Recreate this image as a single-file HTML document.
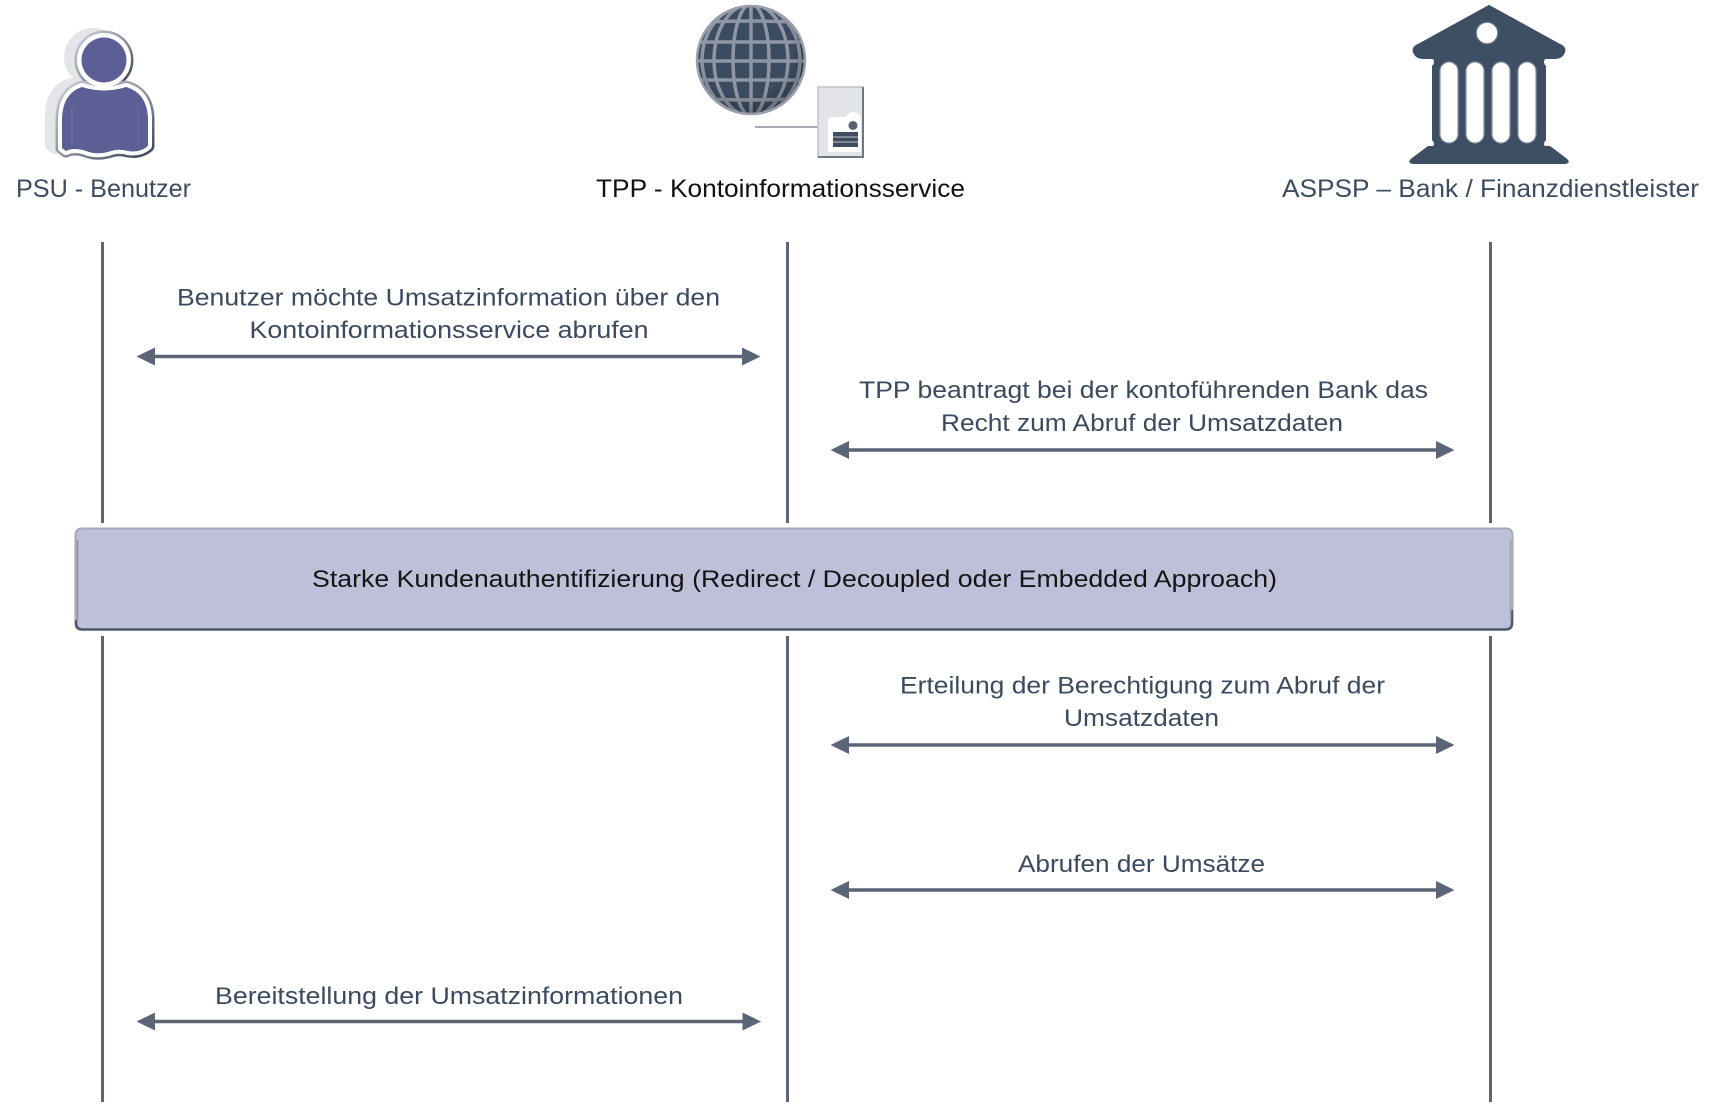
<!DOCTYPE html>
<html>
<head>
<meta charset="utf-8">
<style>
html,body{margin:0;padding:0;background:#fff;}
svg{display:block;}
text{font-family:"Liberation Sans",Arial,sans-serif;}
</style>
</head>
<body>
<svg width="1715" height="1105" viewBox="0 0 1715 1105" xmlns="http://www.w3.org/2000/svg">
  <defs>
    <linearGradient id="og" x1="0" y1="0" x2="1" y2="1">
      <stop offset="0" stop-color="#c3c6ce"/>
      <stop offset="0.55" stop-color="#8a909d"/>
      <stop offset="1" stop-color="#404a5c"/>
    </linearGradient>
    <clipPath id="gc"><circle cx="751" cy="60" r="54"/></clipPath>
    <radialGradient id="gshade" cx="0.45" cy="0.4" r="0.6">
      <stop offset="0.7" stop-color="#000" stop-opacity="0"/>
      <stop offset="1" stop-color="#000" stop-opacity="0.25"/>
    </radialGradient>
  </defs>

  <!-- ===== PSU person icon ===== -->
  <g>
    <!-- shadow -->
    <g transform="translate(-11,-3)" fill="#e4e5e9" stroke="#e4e5e9" stroke-width="12" stroke-linejoin="round">
      <ellipse cx="104" cy="60" rx="23" ry="23"/>
      <path d="M62 148 L62 118 Q63 93 82 87 Q104 94 126 87 Q147 93 148 118 L148 146 Q140 153 128 151 Q118 148 108 152 Q96 155 86 151 Q74 147 66 151 Z"/>
    </g>
    <!-- outer outline -->
    <g fill="url(#og)" stroke="url(#og)" stroke-width="13" stroke-linejoin="round">
      <ellipse cx="104" cy="60" rx="23" ry="23"/>
      <path d="M62 148 L62 118 Q63 93 82 87 Q104 94 126 87 Q147 93 148 118 L148 146 Q140 153 128 151 Q118 148 108 152 Q96 155 86 151 Q74 147 66 151 Z"/>
    </g>
    <!-- white ring -->
    <g fill="#ffffff" stroke="#ffffff" stroke-width="8" stroke-linejoin="round">
      <ellipse cx="104" cy="60" rx="23" ry="23"/>
      <path d="M62 148 L62 118 Q63 93 82 87 Q104 94 126 87 Q147 93 148 118 L148 146 Q140 153 128 151 Q118 148 108 152 Q96 155 86 151 Q74 147 66 151 Z"/>
    </g>
    <!-- purple fill -->
    <g fill="#5b5f96">
      <ellipse cx="104" cy="60" rx="22.5" ry="22.5"/>
      <path d="M62 148 L62 118 Q63 93 82 87 Q104 94 126 87 Q147 93 148 118 L148 146 Q140 153 128 151 Q118 148 108 152 Q96 155 86 151 Q74 147 66 151 Z"/>
    </g>
    <path d="M72 108 L72 146" stroke="#6e72a4" stroke-width="1"/>
    <path d="M138 108 L138 146" stroke="#6e72a4" stroke-width="1"/>
  </g>

  <!-- ===== TPP globe + server ===== -->
  <g>
    <circle cx="751" cy="60" r="55" fill="#a2a7b2"/>
    <g clip-path="url(#gc)">
      <rect x="690" y="0" width="125" height="125" fill="#3b4b60"/>
      <g fill="none" stroke="#8f96a3" stroke-width="3.5">
        <line x1="751" y1="0" x2="751" y2="120"/>
        <ellipse cx="751" cy="60" rx="18" ry="56"/>
        <ellipse cx="751" cy="60" rx="37" ry="56"/>
        <ellipse cx="751" cy="60" rx="49" ry="56"/>
        <path d="M690 23 Q751 19 812 23"/>
        <line x1="690" y1="42" x2="812" y2="42"/>
        <line x1="690" y1="61" x2="812" y2="61"/>
        <line x1="690" y1="80" x2="812" y2="80"/>
        <path d="M690 98 Q751 102 812 98"/>
      </g>
      <circle cx="751" cy="60" r="55" fill="url(#gshade)"/>
    </g>
    <circle cx="751" cy="60" r="54" fill="none" stroke="#9aa0ab" stroke-width="2.5"/>
    <!-- connector -->
    <line x1="755" y1="127" x2="819" y2="127" stroke="#a6abb5" stroke-width="2"/>
    <!-- server -->
    <rect x="818" y="87" width="45" height="70" fill="#e3e4e8" stroke="#bfc2c9" stroke-width="1.5"/>
    <path d="M863 87 L863 157 L818 157" fill="none" stroke="#6f7685" stroke-width="2"/>
    <path d="M828 152 L828 121 Q828 117 832 117 L846 117 Q847 116 848 114 Q853 110 858 114 Q861 117 861 121 L861 152 Z" fill="#ffffff"/>
    <circle cx="853" cy="125.5" r="4.5" fill="#566073"/>
    <rect x="833" y="132" width="25" height="15" fill="#3e4c60"/>
    <line x1="833" y1="137" x2="858" y2="137" stroke="#c5c8cf" stroke-width="1"/>
    <line x1="833" y1="142" x2="858" y2="142" stroke="#c5c8cf" stroke-width="1"/>
  </g>

  <!-- ===== ASPSP bank ===== -->
  <g fill="#3e4f63">
    <!-- roof -->
    <path d="M1489 6 L1420 44 Q1412 47 1414 52 Q1416 58 1424 58 L1554 58 Q1562 58 1564 52 Q1566 47 1558 44 Z" stroke="#3e4f63" stroke-width="2" stroke-linejoin="round"/>
    <!-- body -->
    <path d="M1432 58 L1546 58 Q1542 62 1546 66 L1546 140 Q1542 144 1546 147 L1432 147 Q1436 144 1432 140 L1432 66 Q1436 62 1432 58 Z"/>
    <!-- base -->
    <path d="M1428 146 L1550 146 L1566 158 Q1572 163 1565 164 L1413 164 Q1406 163 1412 158 Z"/>
    <!-- pediment circle -->
    <circle cx="1487" cy="33" r="11" fill="#ffffff" stroke="#5b6a7d" stroke-width="1.5"/>
    <!-- columns -->
    <g fill="#ffffff" stroke="#8793a2" stroke-width="1.2">
      <rect x="1440" y="62" width="18" height="81" rx="9"/>
      <rect x="1466" y="62" width="18" height="81" rx="9"/>
      <rect x="1492" y="62" width="18" height="81" rx="9"/>
      <rect x="1518" y="62" width="18" height="81" rx="9"/>
    </g>
  </g>

  <!-- ===== Headers ===== -->
  <text x="16" y="197" font-size="25" fill="#3d4c60" textLength="175" lengthAdjust="spacingAndGlyphs">PSU - Benutzer</text>
  <text x="596" y="197" font-size="25" fill="#111111" textLength="369" lengthAdjust="spacingAndGlyphs">TPP - Kontoinformationsservice</text>
  <text x="1282" y="197" font-size="25" fill="#3d4c60" textLength="417" lengthAdjust="spacingAndGlyphs">ASPSP – Bank / Finanzdienstleister</text>

  <!-- ===== Lifelines ===== -->
  <g stroke="#5b6577" stroke-width="3">
    <line x1="102.5" y1="242" x2="102.5" y2="523"/>
    <line x1="787.5" y1="242" x2="787.5" y2="523"/>
    <line x1="1490.5" y1="242" x2="1490.5" y2="523"/>
    <line x1="102.5" y1="636" x2="102.5" y2="1102"/>
    <line x1="787.5" y1="636" x2="787.5" y2="1102"/>
    <line x1="1490.5" y1="636" x2="1490.5" y2="1102"/>
  </g>

  <!-- ===== Arrows ===== -->
  <g stroke="#5b6577" stroke-width="3.5">
    <line x1="150" y1="356.5" x2="747" y2="356.5"/>
    <line x1="844" y1="450" x2="1441" y2="450"/>
    <line x1="844" y1="745" x2="1441" y2="745"/>
    <line x1="844" y1="890" x2="1441" y2="890"/>
    <line x1="150" y1="1021.5" x2="747" y2="1021.5"/>
  </g>
  <g fill="#5b6577">
    <polygon points="136.5,356.5 155,347.5 155,365.5"/>
    <polygon points="760.5,356.5 742,347.5 742,365.5"/>
    <polygon points="830.5,450 849,441 849,459"/>
    <polygon points="1454.5,450 1436,441 1436,459"/>
    <polygon points="830.5,745 849,736 849,754"/>
    <polygon points="1454.5,745 1436,736 1436,754"/>
    <polygon points="830.5,890 849,881 849,899"/>
    <polygon points="1454.5,890 1436,881 1436,899"/>
    <polygon points="136.5,1021.5 155,1012.5 155,1030.5"/>
    <polygon points="761,1021.5 742.5,1012.5 742.5,1030.5"/>
  </g>

  <!-- ===== Message labels ===== -->
  <g font-size="24" fill="#3b4a5e">
    <text x="177" y="305.5" textLength="543" lengthAdjust="spacingAndGlyphs">Benutzer möchte Umsatzinformation über den</text>
    <text x="249.5" y="338" textLength="399" lengthAdjust="spacingAndGlyphs">Kontoinformationsservice abrufen</text>
    <text x="859" y="398" textLength="569" lengthAdjust="spacingAndGlyphs">TPP beantragt bei der kontoführenden Bank das</text>
    <text x="941" y="431" textLength="402" lengthAdjust="spacingAndGlyphs">Recht zum Abruf der Umsatzdaten</text>
    <text x="900" y="693.5" textLength="485" lengthAdjust="spacingAndGlyphs">Erteilung der Berechtigung zum Abruf der</text>
    <text x="1064" y="726" textLength="155" lengthAdjust="spacingAndGlyphs">Umsatzdaten</text>
    <text x="1018" y="872" textLength="247" lengthAdjust="spacingAndGlyphs">Abrufen der Umsätze</text>
    <text x="215" y="1004" textLength="468" lengthAdjust="spacingAndGlyphs">Bereitstellung der Umsatzinformationen</text>
  </g>

  <!-- ===== SCA box ===== -->
  <rect x="75.5" y="528.5" width="1437" height="101" rx="6" fill="#bec0da" stroke="#a6a9b4" stroke-width="2"/>
  <path d="M76 620 L76 623 Q76 629.5 82 629.5 L1506 629.5 Q1512 629.5 1512 623 L1512 610" fill="none" stroke="#4e586b" stroke-width="2.5"/>
  <line x1="77.5" y1="540" x2="77.5" y2="620" stroke="#8a90a0" stroke-width="1.5"/>
  <line x1="1510.5" y1="540" x2="1510.5" y2="620" stroke="#9ea2ad" stroke-width="1.5"/>
  <text x="312" y="587" font-size="24" fill="#141414" textLength="965" lengthAdjust="spacingAndGlyphs">Starke Kundenauthentifizierung (Redirect / Decoupled oder Embedded Approach)</text>
</svg>
</body>
</html>
